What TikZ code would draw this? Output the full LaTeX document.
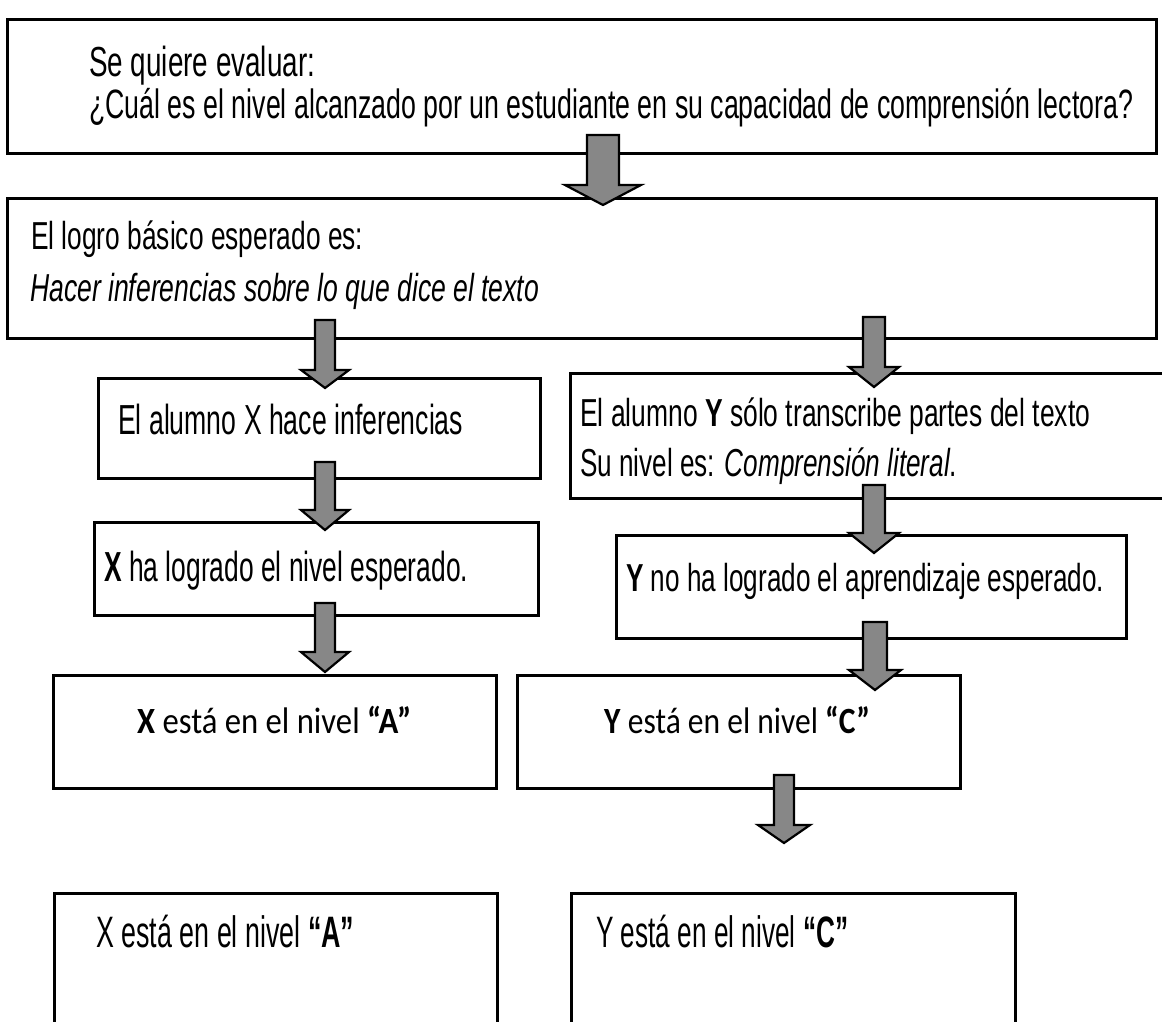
\documentclass[tikz,border=0pt]{standalone}
\usepackage{fontspec}
\usepackage{graphicx}
\setmainfont{Liberation Sans}
\newfontfamily\calib{Carlito}
\usetikzlibrary{calc}
\newcommand{\fw}[2]{\resizebox{#1pt}{\height}{#2}}
\newcommand{\fs}[1]{\fontsize{#1}{#1}\selectfont}
\newcommand{\blockarrow}[5]{%
  \filldraw[barrow] ($(#1)+(-#3,0)$) -- ($(#1)+(#3,0)$) -- ($(#2)+(#3,-#5)$)
   -- ($(#2)+(#4,-#5)$) -- (#2) -- ($(#2)+(-#4,-#5)$) -- ($(#2)+(-#3,-#5)$) -- cycle;}
\begin{document}
\begin{tikzpicture}[x=1pt,y=-1pt,
  box/.style={draw=black, line width=3pt, fill=white, inner sep=0pt, anchor=north west},
  txt/.style={inner sep=0pt, anchor=base west},
  barrow/.style={fill={rgb,255:red,135;green,135;blue,135}, draw=black, line width=2.2pt, line join=miter}]
\fill[white] (0,0) rectangle (1162,1022);
\useasboundingbox (0,0) rectangle (1162,1022);
% boxes
\node[box, minimum width=1149pt, minimum height=134pt] (b1) at (6,18) {};
\node[box, minimum width=1149pt, minimum height=140pt] (b2) at (6,197) {};
\node[box, minimum width=442pt, minimum height=100pt] (b3l) at (97,377) {};
\node[box, minimum width=610pt, minimum height=125pt] (b3r) at (569,372) {};
\node[box, minimum width=444pt, minimum height=93pt] (b4l) at (93,521) {};
\node[box, minimum width=510pt, minimum height=103pt] (b4r) at (615,534) {};
\node[box, minimum width=443pt, minimum height=113pt] (b5l) at (52,674) {};
\node[box, minimum width=443pt, minimum height=113pt] (b5r) at (516,674) {};
\node[box, minimum width=443pt, minimum height=160pt] (b6l) at (53,892) {};
\node[box, minimum width=444pt, minimum height=160pt] (b6r) at (570,892) {};
% texts
\node[txt] (t1) at (89,77) {\fs{42}\fw{226}{Se quiere evaluar:}};
\node[txt] (t2) at (89,119) {\fs{41}\fw{1044}{¿Cuál es el nivel alcanzado por un estudiante en su capacidad de comprensión lectora?}};
\node[txt] (t3) at (31,249) {\fs{39}\fw{332}{El logro básico esperado es:}};
\node[txt] (t4) at (30,301) {\fs{39}\fw{509}{\itshape Hacer inferencias sobre lo que dice el texto}};
\node[txt] (t5) at (118,434) {\fs{42}\fw{345}{El alumno X hace inferencias}};
\node[txt] (t6) at (580,426) {\fs{39}\fw{510}{El alumno \textbf{Y} sólo transcribe partes del texto}};
\node[txt] (t7) at (580,476) {\fs{39}\fw{377}{Su nivel es: \textit{Comprensión literal}.}};
\node[txt] (t8) at (104,581) {\fs{42}\fw{364}{\textbf{X} ha logrado el nivel esperado.}};
\node[txt] (t9) at (626,591) {\fs{39}\fw{478}{\textbf{Y} no ha logrado el aprendizaje esperado.}};
\node[txt] (t10) at (137,733) {\calib\fs{37}\fw{274}{\textbf{X} está en el nivel \textbf{“A”}}};
\node[txt] (t11) at (604,733) {\calib\fs{37}\fw{266}{\textbf{Y} está en el nivel \textbf{“C”}}};
\node[txt] (t12) at (96,947) {\fs{44}\fw{258}{X está en el nivel \textbf{“A”}}};
\node[txt] (t13) at (596,947) {\fs{44}\fw{252}{Y está en el nivel \textbf{“C”}}};
% arrow coordinates
\coordinate (a1s) at (603,135); \coordinate (a1e) at (603,205);
\coordinate (a2ls) at (325,320); \coordinate (a2le) at (325,388);
\coordinate (a2rs) at (874,317); \coordinate (a2re) at (874,387);
\coordinate (a3ls) at (325,462); \coordinate (a3le) at (325,530);
\coordinate (a3rs) at (874,485); \coordinate (a3re) at (874,553);
\coordinate (a4ls) at (325,603); \coordinate (a4le) at (325,672);
\coordinate (a4rs) at (875,622); \coordinate (a4re) at (875,690);
\coordinate (a5rs) at (784,775); \coordinate (a5re) at (784,843);
\blockarrow{a1s}{a1e}{16}{38}{20}
\blockarrow{a2ls}{a2le}{10}{24}{18}
\blockarrow{a2rs}{a2re}{11}{25}{20}
\blockarrow{a3ls}{a3le}{10}{24}{20}
\blockarrow{a3rs}{a3re}{11}{25}{20}
\blockarrow{a4ls}{a4le}{10}{24}{20}
\blockarrow{a4rs}{a4re}{12}{26}{20}
\blockarrow{a5rs}{a5re}{10}{26}{18}
\end{tikzpicture}
\end{document}
